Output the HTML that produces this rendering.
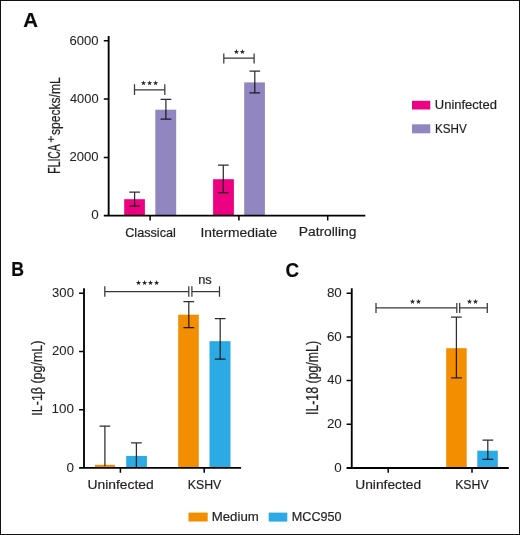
<!DOCTYPE html>
<html><head><meta charset="utf-8">
<style>
html,body{margin:0;padding:0;background:#fff;}
body{width:520px;height:535px;overflow:hidden;}
svg{display:block;}
text{font-family:"Liberation Sans",sans-serif;}
.tx{filter:grayscale(0);}
.tx text{stroke:#231f20;stroke-width:0.2;vector-effect:non-scaling-stroke;}
.tx text.rt{stroke-width:0.22;}
.tx text.tl{stroke-width:0.06;}
.ax{stroke:#000;stroke-width:1.85;fill:none;}
.tk{stroke:#000;stroke-width:1.5;fill:none;}
.eb{stroke:#000;stroke-opacity:0.82;stroke-width:1.25;fill:none;}
.br{stroke:#000;stroke-opacity:0.78;stroke-width:1.25;fill:none;}
</style></head>
<body>
<svg width="520" height="535" viewBox="0 0 520 535">
<rect x="0.5" y="0.5" width="519" height="534" fill="#fff" stroke="#111" stroke-width="1"/>

<!-- ============ PANEL A ============ -->
<rect x="124.2" y="199.2" width="20.7" height="16.4" fill="#eb0181"/>
<rect x="155.3" y="109.7" width="20.9" height="105.9" fill="#9186c0"/>
<rect x="213.1" y="179.2" width="20.8" height="36.4" fill="#eb0181"/>
<rect x="244.2" y="82.4" width="20.7" height="133.2" fill="#9186c0"/>
<path class="eb" d="M134.6 192.0V206.2M129.25 192.0H139.95M129.25 206.2H139.95"/>
<path class="eb" d="M165.9 99.3V119.1M160.55 99.3H171.25M160.55 119.1H171.25"/>
<path class="eb" d="M223.3 165.0V192.7M217.95 165.0H228.65M217.95 192.7H228.65"/>
<path class="eb" d="M254.8 71.0V92.8M249.45 71.0H260.15M249.45 92.8H260.15"/>
<path class="br" d="M134.5 89.85H164.8M134.5 84.3V95M164.8 84.3V95"/>
<path class="br" d="M223.8 58.2H254.1M223.8 53.4V63.5M254.1 53.4V63.5"/>
<path class="ax" d="M108.65 36V216.5M103.8 215.65H365.3"/>
<path class="tk" d="M103.8 40.8H108.6M103.8 99.1H108.6M103.8 157.4H108.6M150.1 215.6V220.5M238.9 215.6V220.5M327.7 215.6V220.5"/>
<path d="M51 136.1V142.3M47.9 139.2H54.1" stroke="#231f20" stroke-width="1.1" fill="none"/>
<rect x="412" y="100.8" width="18.3" height="8.7" fill="#eb0181"/>
<rect x="412" y="124.3" width="18.3" height="9" fill="#9186c0"/>

<!-- ============ PANEL B ============ -->
<rect x="95" y="464.8" width="19.9" height="3.2" fill="#f28e00"/>
<rect x="126.2" y="455.9" width="20.7" height="12.1" fill="#2baae4"/>
<rect x="178.2" y="314.7" width="20.6" height="153.3" fill="#f28e00"/>
<rect x="209.5" y="341.2" width="21" height="126.8" fill="#2baae4"/>
<path class="eb" d="M104.9 426.2V466.0M99.55 426.2H110.25"/>
<path class="eb" d="M136.4 442.8V467.0M131.05 442.8H141.75"/>
<path class="eb" d="M188.8 301.6V327.6M183.45 301.6H194.15M183.45 327.6H194.15"/>
<path class="eb" d="M220.2 318.6V359.0M214.85 318.6H225.55M214.85 359.0H225.55"/>
<path class="br" d="M104.8 291.5H188.8M104.8 286.3V296.8M188.8 286.3V296.8"/>
<path class="br" d="M191.9 291.5H219.5M191.9 286.3V296.8M219.5 286.3V296.8"/>
<path class="ax" d="M84 288.3V468.8M79.1 467.9H241.1"/>
<path class="tk" d="M79.1 293.2H84M79.1 351.4H84M79.1 409.7H84M120.4 467.9V472.7M204.2 467.9V472.7"/>

<!-- ============ PANEL C ============ -->
<rect x="446.2" y="348.2" width="20.5" height="119.8" fill="#f28e00"/>
<rect x="477.3" y="450.7" width="20.5" height="17.3" fill="#2baae4"/>
<path class="eb" d="M456.4 317.1V377.8M451.05 317.1H461.75M451.05 377.8H461.75"/>
<path class="eb" d="M487.8 440.2V459.3M482.45 440.2H493.15M482.45 459.3H493.15"/>
<path class="br" d="M376 307.8H456.8M376 302.9V313.1M456.8 302.9V313.1"/>
<path class="br" d="M459.7 307.8H487.3M459.7 302.9V313.1M487.3 302.9V313.1"/>
<path class="ax" d="M351.75 288.3V468.8M346.6 467.95H508.8"/>
<path class="tk" d="M346.6 293.2H351.7M346.6 336.9H351.7M346.6 380.6H351.7M346.6 424.3H351.7M388.2 467.9V472.7M472 467.9V472.7"/>

<!-- bottom legend -->
<rect x="188.5" y="512.6" width="19.2" height="8.9" fill="#f28e00"/>
<rect x="268.7" y="512.6" width="18.6" height="9" fill="#2baae4"/>

<polygon points="143.50,80.40 144.16,82.19 146.07,82.27 144.57,83.45 145.09,85.28 143.50,84.22 141.91,85.28 142.43,83.45 140.93,82.27 142.84,82.19" fill="#262626"/>
<polygon points="149.60,80.40 150.26,82.19 152.17,82.27 150.67,83.45 151.19,85.28 149.60,84.22 148.01,85.28 148.53,83.45 147.03,82.27 148.94,82.19" fill="#262626"/>
<polygon points="155.60,80.40 156.26,82.19 158.17,82.27 156.67,83.45 157.19,85.28 155.60,84.22 154.01,85.28 154.53,83.45 153.03,82.27 154.94,82.19" fill="#262626"/>
<polygon points="236.40,49.10 237.06,50.89 238.97,50.97 237.47,52.15 237.99,53.98 236.40,52.92 234.81,53.98 235.33,52.15 233.83,50.97 235.74,50.89" fill="#262626"/>
<polygon points="242.40,49.10 243.06,50.89 244.97,50.97 243.47,52.15 243.99,53.98 242.40,52.92 240.81,53.98 241.33,52.15 239.83,50.97 241.74,50.89" fill="#262626"/>
<polygon points="138.50,280.10 139.16,281.89 141.07,281.97 139.57,283.15 140.09,284.98 138.50,283.92 136.91,284.98 137.43,283.15 135.93,281.97 137.84,281.89" fill="#262626"/>
<polygon points="144.60,280.10 145.26,281.89 147.17,281.97 145.67,283.15 146.19,284.98 144.60,283.92 143.01,284.98 143.53,283.15 142.03,281.97 143.94,281.89" fill="#262626"/>
<polygon points="150.50,280.10 151.16,281.89 153.07,281.97 151.57,283.15 152.09,284.98 150.50,283.92 148.91,284.98 149.43,283.15 147.93,281.97 149.84,281.89" fill="#262626"/>
<polygon points="156.60,280.10 157.26,281.89 159.17,281.97 157.67,283.15 158.19,284.98 156.60,283.92 155.01,284.98 155.53,283.15 154.03,281.97 155.94,281.89" fill="#262626"/>
<polygon points="412.50,299.00 413.16,300.79 415.07,300.87 413.57,302.05 414.09,303.88 412.50,302.82 410.91,303.88 411.43,302.05 409.93,300.87 411.84,300.79" fill="#262626"/>
<polygon points="418.50,299.00 419.16,300.79 421.07,300.87 419.57,302.05 420.09,303.88 418.50,302.82 416.91,303.88 417.43,302.05 415.93,300.87 417.84,300.79" fill="#262626"/>
<polygon points="469.50,299.00 470.16,300.79 472.07,300.87 470.57,302.05 471.09,303.88 469.50,302.82 467.91,303.88 468.43,302.05 466.93,300.87 468.84,300.79" fill="#262626"/>
<polygon points="475.50,299.00 476.16,300.79 478.07,300.87 476.57,302.05 477.09,303.88 475.50,302.82 473.91,303.88 474.43,302.05 472.93,300.87 474.84,300.79" fill="#262626"/>
<g class="tx"><text transform="matrix(0.34000 0 0 0.32439 23.320 26.700)" font-size="60.0" font-weight="bold" fill="#0a0a0a" xml:space="preserve">A</text>
<text transform="matrix(0.29459 0 0 0.32683 11.222 276.400)" font-size="60.0" font-weight="bold" fill="#0a0a0a" xml:space="preserve">B</text>
<text transform="matrix(0.31316 0 0 0.34146 285.461 276.600)" font-size="60.0" font-weight="bold" fill="#0a0a0a" xml:space="preserve">C</text>
<text class="tl" transform="matrix(0.21836 0 0 0.22683 69.495 44.500)" font-size="60.0" fill="#231f20" xml:space="preserve">6000</text>
<text class="tl" transform="matrix(0.21500 0 0 0.22683 69.935 102.800)" font-size="60.0" fill="#231f20" xml:space="preserve">4000</text>
<text class="tl" transform="matrix(0.21836 0 0 0.22683 69.495 161.100)" font-size="60.0" fill="#231f20" xml:space="preserve">2000</text>
<text class="tl" transform="matrix(0.22414 0 0 0.22683 91.152 219.300)" font-size="60.0" fill="#231f20" xml:space="preserve">0</text>
<text class="tl" transform="matrix(0.21895 0 0 0.22683 52.043 296.900)" font-size="60.0" fill="#231f20" xml:space="preserve">300</text>
<text class="tl" transform="matrix(0.21895 0 0 0.22683 52.043 355.100)" font-size="60.0" fill="#231f20" xml:space="preserve">200</text>
<text class="tl" transform="matrix(0.22366 0 0 0.22683 51.582 413.400)" font-size="60.0" fill="#231f20" xml:space="preserve">100</text>
<text class="tl" transform="matrix(0.22414 0 0 0.22683 66.552 471.600)" font-size="60.0" fill="#231f20" xml:space="preserve">0</text>
<text class="tl" transform="matrix(0.22377 0 0 0.22683 326.879 296.900)" font-size="60.0" fill="#231f20" xml:space="preserve">80</text>
<text class="tl" transform="matrix(0.22377 0 0 0.22683 326.879 340.600)" font-size="60.0" fill="#231f20" xml:space="preserve">60</text>
<text class="tl" transform="matrix(0.21667 0 0 0.22683 327.333 384.300)" font-size="60.0" fill="#231f20" xml:space="preserve">40</text>
<text class="tl" transform="matrix(0.22377 0 0 0.22683 326.879 428.000)" font-size="60.0" fill="#231f20" xml:space="preserve">20</text>
<text class="tl" transform="matrix(0.22414 0 0 0.22683 334.252 471.600)" font-size="60.0" fill="#231f20" xml:space="preserve">0</text>
<text transform="matrix(0.21116 0 0 0.21560 125.167 236.500)" font-size="60.0" fill="#231f20" xml:space="preserve">Classical</text>
<text transform="matrix(0.23046 0 0 0.21560 200.417 236.500)" font-size="60.0" fill="#231f20" xml:space="preserve">Intermediate</text>
<text transform="matrix(0.23071 0 0 0.21560 298.746 236.400)" font-size="60.0" fill="#231f20" xml:space="preserve">Patrolling</text>
<text transform="matrix(0.23094 0 0 0.21560 87.445 489.000)" font-size="60.0" fill="#231f20" xml:space="preserve">Uninfected</text>
<text transform="matrix(0.20506 0 0 0.21802 187.775 488.800)" font-size="60.0" fill="#231f20" xml:space="preserve">KSHV</text>
<text transform="matrix(0.22986 0 0 0.21560 355.251 489.000)" font-size="60.0" fill="#231f20" xml:space="preserve">Uninfected</text>
<text transform="matrix(0.20443 0 0 0.21802 455.178 488.800)" font-size="60.0" fill="#231f20" xml:space="preserve">KSHV</text>
<text transform="matrix(0.21655 0 0 0.21318 434.817 108.700)" font-size="60.0" fill="#231f20" xml:space="preserve">Uninfected</text>
<text transform="matrix(0.19494 0 0 0.21560 434.925 132.600)" font-size="60.0" fill="#231f20" xml:space="preserve">KSHV</text>
<text transform="matrix(0.22098 0 0 0.21318 211.695 520.800)" font-size="60.0" fill="#231f20" xml:space="preserve">Medium</text>
<text transform="matrix(0.21087 0 0 0.21076 291.746 520.500)" font-size="60.0" fill="#231f20" xml:space="preserve">MCC950</text>
<text transform="matrix(0.21404 0 0 0.22395 198.144 283.600)" font-size="60.0" fill="#231f20" xml:space="preserve">ns</text>
<text class="rt" transform="matrix(0 -0.17333 0.26163 0 59.700 173.667)" font-size="60.0" fill="#231f20" xml:space="preserve">FLICA</text>
<text class="rt" transform="matrix(0 -0.20177 0.25436 0 59.700 135.104)" font-size="60.0" fill="#231f20" xml:space="preserve">specks/mL</text>
<text class="rt" transform="matrix(0 -0.20798 0.25678 0 42.400 415.648)" font-size="60.0" fill="#231f20" xml:space="preserve">IL-1β (pg/mL)</text>
<text class="rt" transform="matrix(0 -0.20600 0.26163 0 317.700 415.036)" font-size="60.0" fill="#231f20" xml:space="preserve">IL-18 (pg/mL)</text></g>
</svg>
</body></html>
